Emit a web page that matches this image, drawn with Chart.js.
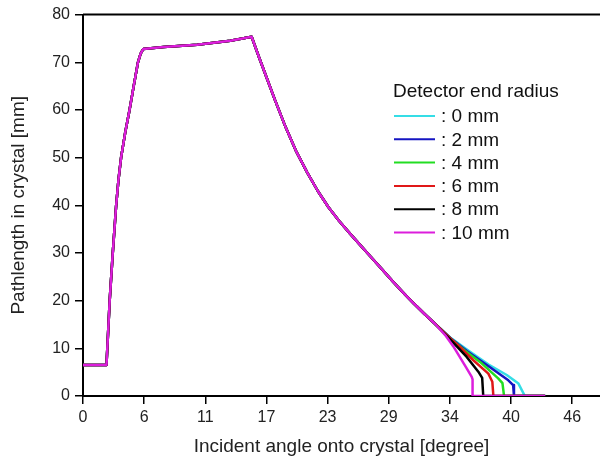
<!DOCTYPE html>
<html>
<head>
<meta charset="utf-8">
<script src="https://cdn.jsdelivr.net/npm/chart.js@4/dist/chart.umd.min.js"></script>
<style>
  body { margin: 0; background: #fff; }
  canvas { display: block; }
</style>
</head>
<body>
<canvas id="pathChart" width="600" height="461"></canvas>
<script>
// shared part of the curve (angle in degree, pathlength in mm)
const commonAngle = [0, 2.2, 2.5, 2.78, 3.1, 3.32, 3.58, 3.95, 4.36, 4.75, 5.15, 5.4, 5.65, 7.55, 10.7, 13.8, 15.8,
  16.5, 17.2, 18.0, 19.0, 20.0, 21.0, 22.0, 23.0, 24.0, 25.0, 26.0, 27.0, 28.0, 29.0, 30.0, 31.0, 32.0, 33.0];
const commonPath = [6.5, 6.5, 20, 29.7, 39.8, 45.3, 50.2, 55.2, 60, 65, 70, 71.8, 72.8, 73.2, 73.7, 74.5, 75.35,
  71.0, 66.8, 62.0, 56.3, 51.2, 46.9, 43.0, 39.6, 36.7, 34.1, 31.6, 29.1, 26.6, 24.1, 21.7, 19.4, 17.2, 15.1];

// tails where the curves split up, one per detector end radius
const radii = [0, 2, 4, 6, 8, 10];
const tailAngle = [
  [34.5, 36.2, 38.0, 39.7, 40.8, 41.4, 43.3],
  [34.5, 36.0, 38.1, 39.85, 40.3, 40.38, 43.3],
  [34.5, 35.8, 37.2, 38.9, 39.3, 39.45, 43.3],
  [34.5, 35.5, 36.57, 37.98, 38.35, 38.45, 43.3],
  [34.4, 35.2, 35.95, 37.04, 37.4, 37.5, 43.3],
  [34.0, 34.7, 35.95, 36.42, 36.5, 36.5, 43.3]
];
const tailPath = [
  [12.1, 9.4, 6.6, 4.4, 2.6, 0, 0],
  [12.0, 9.4, 6.1, 3.3, 2.3, 0, 0],
  [11.9, 9.5, 7.15, 3.7, 2.7, 0, 0],
  [11.9, 9.9, 7.5, 4.7, 3.0, 0, 0],
  [11.9, 10.0, 8.2, 5.1, 3.8, 0, 0],
  [12.6, 10.4, 5.8, 4.0, 3.5, 0, 0]
];
const colors = ['#35dde6', '#1515c2', '#22dd22', '#e01818', '#000000', '#dc1edc'];

// x ticks sit at steps of 0.1 rad, labelled in degree
const tickRad = [0, 0.1, 0.2, 0.3, 0.4, 0.5, 0.6, 0.7, 0.8];

const FONT = "'Liberation Sans', Arial, sans-serif";

function buildPoints(i) {
  const pts = commonAngle.map((a, k) => ({ x: a, y: commonPath[k] }));
  tailAngle[i].forEach((a, k) => pts.push({ x: a, y: tailPath[i][k] }));
  return pts;
}

// largest radius first so magenta ends up on top
const datasets = radii.map((r, i) => ({
  label: ': ' + r + ' mm',
  data: buildPoints(i),
  borderColor: colors[i],
  borderWidth: 2.5,
  borderJoinStyle: 'round',
  pointRadius: 0,
  tension: 0,
  fill: false
})).reverse();

const insideLegend = {
  id: 'insideLegend',
  afterDraw(chart) {
    const ctx = chart.ctx;
    const x0 = 393, y0 = 92;
    ctx.save();
    ctx.fillStyle = '#111';
    ctx.font = '19px ' + FONT;
    ctx.textBaseline = 'middle';
    ctx.fillText('Detector end radius', x0, y0);
    const items = chart.data.datasets.slice().reverse();
    items.forEach((ds, i) => {
      const y = y0 + 24 + i * 23.3;
      ctx.strokeStyle = ds.borderColor;
      ctx.lineWidth = 2;
      ctx.beginPath();
      ctx.moveTo(x0 + 1, y);
      ctx.lineTo(x0 + 42, y);
      ctx.stroke();
      ctx.fillText(ds.label, x0 + 48, y + 1);
    });
    // top frame line
    const a = chart.chartArea;
    ctx.strokeStyle = '#000';
    ctx.lineWidth = 2;
    ctx.beginPath();
    ctx.moveTo(a.left, a.top);
    ctx.lineTo(a.right, a.top);
    ctx.stroke();
    ctx.restore();
  }
};

new Chart(document.getElementById('pathChart'), {
  type: 'line',
  data: { datasets: datasets },
  plugins: [insideLegend],
  options: {
    responsive: false,
    animation: false,
    parsing: false,
    layout: { padding: { top: 12, right: 0, left: 0, bottom: 0 } },
    plugins: { legend: { display: false }, tooltip: { enabled: false } },
    scales: {
      x: {
        type: 'linear',
        min: 0,
        max: 48.44,
        afterBuildTicks: (scale) => {
          scale.ticks = tickRad.map(r => ({ value: r * 180 / Math.PI }));
        },
        afterFit: (scale) => { scale.height = 65; },
        ticks: {
          autoSkip: false,
          maxRotation: 0,
          padding: 4,
          color: '#222',
          font: { family: FONT, size: 16 },
          callback: (v) => Math.round(v)
        },
        grid: { drawOnChartArea: false, color: '#000', tickLength: 8, lineWidth: 1.5 },
        border: { color: '#000', width: 2 },
        title: {
          display: true,
          text: 'Incident angle onto crystal [degree]',
          color: '#222',
          font: { family: FONT, size: 19 },
          padding: { top: 0, bottom: 3 }
        }
      },
      y: {
        min: 0,
        max: 80,
        afterFit: (scale) => { scale.width = 83; },
        ticks: {
          stepSize: 10,
          padding: 5,
          color: '#222',
          font: { family: FONT, size: 16 }
        },
        grid: { drawOnChartArea: false, color: '#000', tickLength: 8, lineWidth: 1.5 },
        border: { color: '#000', width: 2 },
        title: {
          display: true,
          text: 'Pathlength in crystal [mm]',
          color: '#222',
          font: { family: FONT, size: 19 },
          padding: { top: 7, bottom: 4 }
        }
      }
    }
  }
});
</script>
</body>
</html>
